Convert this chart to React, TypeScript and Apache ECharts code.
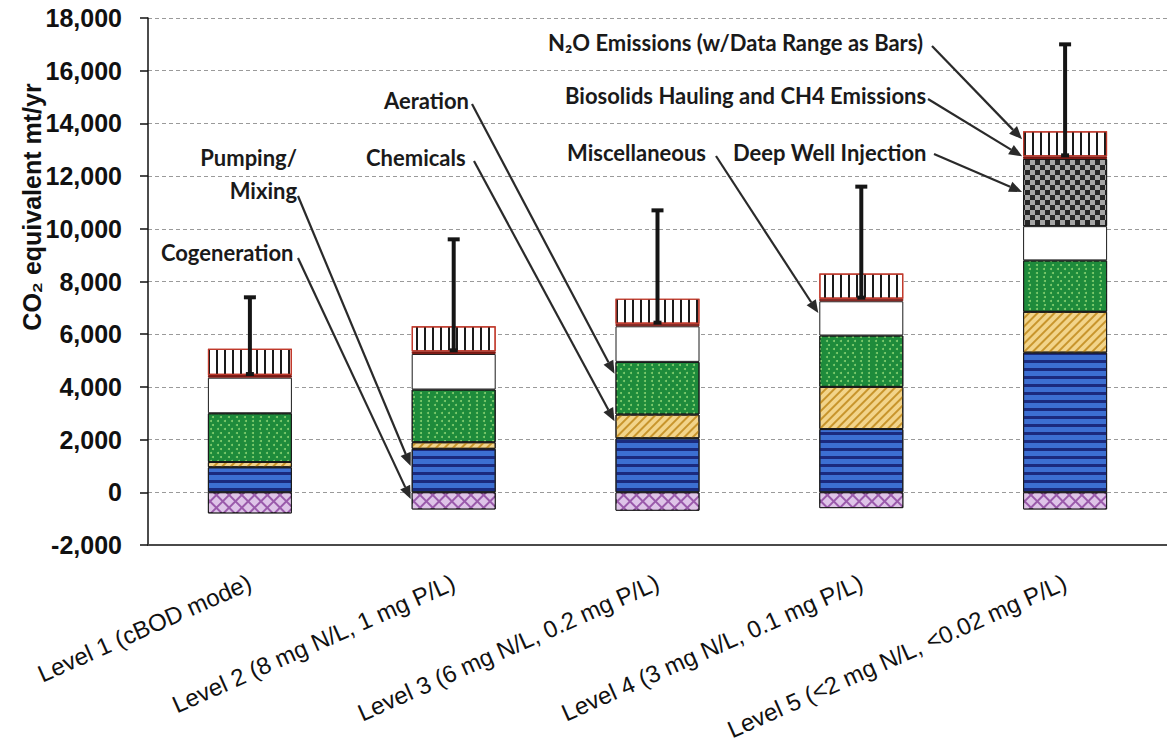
import React, { useEffect, useRef } from 'react';
import * as echarts from 'echarts';

// ---------- data ----------
const categories = [
  'Level 1 (cBOD mode)',
  'Level 2 (8 mg N/L, 1 mg P/L)',
  'Level 3 (6 mg N/L, 0.2 mg P/L)',
  'Level 4 (3 mg N/L, 0.1 mg P/L)',
  'Level 5 (<2 mg N/L, <0.02 mg P/L)',
];
const cogeneration = [-800, -650, -700, -600, -650];
const pumpingMixing = [950, 1650, 2050, 2400, 5300];
const chemicals = [200, 250, 900, 1600, 1550];
const aeration = [1850, 2000, 2000, 1950, 1950];
const miscellaneous = [1350, 1350, 1350, 1300, 1300];
const deepWellInjection = [0, 0, 0, 0, 2550];
const biosolidsCH4 = [100, 100, 100, 100, 100];
const n2oEmissions = [1000, 950, 950, 950, 950];
const n2oRangeHigh = [7400, 9600, 10700, 11600, 17000];

const yMin = -2000;
const yMax = 18000;
const yStep = 2000;

const annotationTexts = [
  'N₂O Emissions (w/Data Range as Bars)',
  'Biosolids Hauling and CH4 Emissions',
  'Miscellaneous',
  'Deep Well Injection',
  'Aeration',
  'Chemicals',
  'Pumping/\nMixing',
  'Cogeneration',
];
// arrow targets: [category index, value]
const annotationTargets = [
  [4, 13400],
  [4, 12750],
  [3, 6800],
  [4, 11400],
  [2, 4500],
  [2, 2700],
  [1, 1000],
  [1, -250],
];

// ---------- layout (pixels) ----------
const BAR_W = 84;
const labelLayout = [
  { x: 548, y: 42, align: 'left', sx: 932, sy: 46 },
  { x: 565, y: 95, align: 'left', sx: 928, sy: 99 },
  { x: 567, y: 152, align: 'left', sx: 716, sy: 156 },
  { x: 733, y: 152, align: 'left', sx: 934, sy: 154 },
  { x: 384, y: 100, align: 'left', sx: 472, sy: 104 },
  { x: 366, y: 157, align: 'left', sx: 474, sy: 161 },
  { x: 297, y: 174, align: 'right', sx: 298, sy: 196 },
  { x: 161, y: 252, align: 'left', sx: 298, sy: 258 },
];

const AXIS_FONT = '"Liberation Sans", Arial, sans-serif';
const NOTE_FONT = 'Lato, "Open Sans", sans-serif';

export default function App() {
  const ref = useRef<HTMLDivElement>(null);

  useEffect(() => {
    document.body.style.margin = '0';
    if (!ref.current) return;
    const chart = echarts.init(ref.current, undefined, { renderer: 'svg' });

    const n2oBase = categories.map(
      (_, i) =>
        pumpingMixing[i] + chemicals[i] + aeration[i] + miscellaneous[i] + deepWellInjection[i] + biosolidsCH4[i]
    );

    const border = { borderColor: '#1a1a1a', borderWidth: 1 };
    const bar = (name: string, data: number[], itemStyle: any, z = 2) => ({
      name,
      type: 'bar',
      stack: 'total',
      barWidth: BAR_W,
      z,
      data: data.map((v) => (v === 0 ? null : v)),
      itemStyle,
    });

    const option: any = {
      animation: false,
      grid: { left: 148, right: 0, top: 18, bottom: 205, containLabel: false, outerBoundsMode: 'none' },
      xAxis: {
        type: 'category',
        data: categories,
        axisLine: { onZero: false, lineStyle: { color: '#4a4a4a', width: 2 } },
        axisTick: { show: false },
        axisLabel: {
          interval: 0,
          rotate: 24,
          margin: 36,
          color: '#111',
          fontSize: 24,
          fontFamily: AXIS_FONT,
        },
      },
      yAxis: {
        type: 'value',
        min: yMin,
        max: yMax,
        interval: yStep,
        axisLine: { show: true, lineStyle: { color: '#111', width: 1.5 } },
        axisTick: { show: true, inside: false, length: 8, lineStyle: { color: '#111', width: 1.5 } },
        axisLabel: {
          margin: 26,
          color: '#111',
          fontSize: 25,
          fontWeight: 'bold',
          fontFamily: AXIS_FONT,
          formatter: (v: number) => v.toLocaleString('en-US'),
        },
        splitLine: { show: true, lineStyle: { color: '#9a9a9a', type: [4, 3], width: 1 } },
      },
      series: [
        bar('Cogeneration', cogeneration, {
          color: '#9a5aab',
          ...border,
          decal: {
            symbol: 'rect',
            color: '#dec4e8',
            dashArrayX: [[7, 1.3]],
            dashArrayY: [7, 1.3],
            rotation: Math.PI / 4,
          },
        }),
        bar('Pumping/Mixing', pumpingMixing, {
          color: '#3c6fd2',
          ...border,
          decal: { symbol: 'rect', color: '#1b2a7e', dashArrayX: [[20, 0]], dashArrayY: [2.5, 4.5], rotation: 0 },
        }),
        bar('Chemicals', chemicals, {
          color: '#f2d48a',
          ...border,
          decal: {
            symbol: 'rect',
            color: '#c8952c',
            dashArrayX: [[20, 0]],
            dashArrayY: [1.5, 3.5],
            rotation: -Math.PI / 4,
          },
        }),
        bar('Aeration', aeration, {
          color: '#1e8b3b',
          ...border,
          decal: {
            symbol: 'circle',
            color: '#86d070',
            dashArrayX: [[2, 5], [0, 3.5, 2, 1.5]],
            dashArrayY: [2, 2],
            rotation: 0,
          },
        }),
        bar('Miscellaneous', miscellaneous, { color: '#ffffff', ...border }),
        bar('Deep Well Injection', deepWellInjection, {
          color: '#a6a6a6',
          ...border,
          decal: {
            symbol: 'rect',
            color: '#262626',
            dashArrayX: [[5, 5], [0, 5, 5, 0]],
            dashArrayY: [5, 0],
            rotation: 0,
          },
        }),
        bar('Biosolids Hauling and CH4 Emissions', biosolidsCH4, {
          color: '#7e1a14',
          borderColor: '#7e1a14',
          borderWidth: 1,
        }),
        bar(
          'N2O Emissions',
          n2oEmissions,
          {
            color: '#ffffff',
            borderColor: '#c0392b',
            borderWidth: 1.2,
            decal: { symbol: 'rect', color: '#1a1a1a', dashArrayX: [[1.8, 5.2]], dashArrayY: [20, 0], rotation: 0 },
          },
          3
        ),
        {
          name: 'N2O Data Range',
          type: 'custom',
          z: 10,
          data: categories.map((_, i) => [i, n2oBase[i], n2oRangeHigh[i]]),
          encode: { x: 0, y: [1, 2] },
          renderItem: (params: any, api: any) => {
            const i = api.value(0);
            const pLow = api.coord([i, api.value(1)]);
            const pHigh = api.coord([i, api.value(2)]);
            const st = { stroke: '#151515', lineWidth: 4 };
            return {
              type: 'group',
              children: [
                { type: 'line', shape: { x1: pLow[0], y1: pLow[1], x2: pHigh[0], y2: pHigh[1] }, style: st },
                { type: 'line', shape: { x1: pHigh[0] - 6, y1: pHigh[1], x2: pHigh[0] + 6, y2: pHigh[1] }, style: st },
                { type: 'line', shape: { x1: pLow[0] - 4, y1: pLow[1] - 1, x2: pLow[0] + 4, y2: pLow[1] - 1 }, style: st },
              ],
            };
          },
        },
      ],
    };

    chart.setOption(option);

    const graphics: any[] = [];
    annotationTexts.forEach((t, k) => {
      const L = labelLayout[k];
      const [ci, val] = annotationTargets[k];
      const p = chart.convertToPixel({ gridIndex: 0 }, [ci, val]) as number[];
      const tx = p[0] - BAR_W / 2 - 1;
      const ty = p[1];
      const ang = Math.atan2(ty - L.sy, tx - L.sx);
      const headLen = 13;
      const headW = 5.5;
      const bx = tx - headLen * Math.cos(ang);
      const by = ty - headLen * Math.sin(ang);
      graphics.push({
        type: 'line',
        z: 20,
        shape: { x1: L.sx, y1: L.sy, x2: bx, y2: by },
        style: { stroke: '#2a2a2a', lineWidth: 2.2 },
      });
      graphics.push({
        type: 'polygon',
        z: 20,
        shape: {
          points: [
            [tx, ty],
            [bx + headW * Math.sin(ang), by - headW * Math.cos(ang)],
            [bx - headW * Math.sin(ang), by + headW * Math.cos(ang)],
          ],
        },
        style: { fill: '#2a2a2a' },
      });
      graphics.push({
        type: 'text',
        z: 20,
        x: L.x,
        y: L.y,
        style: {
          text: t,
          fill: '#1a1a1a',
          fontSize: 22,
          fontWeight: 'bold',
          fontFamily: NOTE_FONT,
          align: L.align,
          verticalAlign: 'middle',
          lineHeight: 33,
        },
      });
    });
    graphics.push({
      type: 'text',
      x: 32,
      y: 207,
      rotation: Math.PI / 2,
      style: {
        text: 'CO₂ equivalent mt/yr',
        fill: '#111',
        fontSize: 25,
        fontWeight: 'bold',
        fontFamily: AXIS_FONT,
        align: 'center',
        verticalAlign: 'middle',
      },
    });
    chart.setOption({ graphic: graphics });

    return () => chart.dispose();
  }, []);

  return <div ref={ref} style={{ width: 1167, height: 750 }} />;
}
